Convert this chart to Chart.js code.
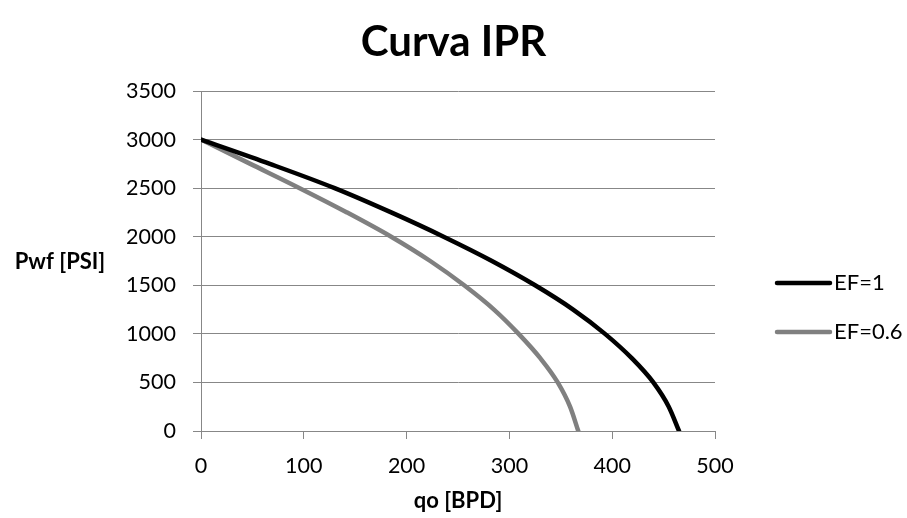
<!DOCTYPE html>
<html>
<head>
<meta charset="utf-8">
<script src="https://cdn.jsdelivr.net/npm/chart.js@4.4.1/dist/chart.umd.min.js"></script>
<style>
  html, body { margin: 0; padding: 0; background: #fff; }
  #wrap { width: 907px; height: 518px; }
</style>
</head>
<body>
<div id="wrap"><canvas id="ipr"></canvas></div>
<script>
// presión de fondo fluyente [psi] y caudal [BPD] para cada eficiencia de flujo
var pwf    = [3000, 2750, 2500, 2250, 2000, 1750, 1500, 1250, 1000, 750, 500, 250, 0];
var qoEF1  = [0, 67, 130, 185, 236, 283, 325, 362, 393, 419, 440, 455, 465];
var qoEF06 = [0, 48, 96, 142, 185, 223, 256, 285, 309, 330, 347, 359, 367];
var seriesNames = ['EF=1', 'EF=0.6'];
var xTicks = [0, 100, 200, 300, 400, 500];
var yTicks = [0, 500, 1000, 1500, 2000, 2500, 3000, 3500];

var FONT = 'Lato, "Open Sans", sans-serif';
var GRID = '#878787';

function toPoints(qs) {
  var pts = [];
  qs.forEach(function (q, i) { pts.push({ x: q, y: pwf[i] }); });
  return pts.reverse();
}

// título centrado en el lienzo, título del eje Y horizontal y leyenda a la derecha
var sideText = {
  id: 'sideText',
  afterDraw: function (chart) {
    var ctx = chart.ctx;
    ctx.save();
    ctx.fillStyle = '#000';
    ctx.textBaseline = 'middle';
    ctx.textAlign = 'center';
    ctx.font = 'bold 42px ' + FONT;
    ctx.fillText('Curva IPR', chart.width / 2, 42);

    ctx.font = 'bold 22px ' + FONT;
    ctx.fillText('Pwf [PSI]', 60, 262);

    ctx.textAlign = 'left';
    ctx.font = '22px ' + FONT;
    chart.data.datasets.forEach(function (ds, i) {
      var y = 283 + i * 49;
      ctx.strokeStyle = ds.borderColor;
      ctx.lineWidth = ds.borderWidth;
      ctx.lineCap = 'round';
      ctx.beginPath();
      ctx.moveTo(777, y);
      ctx.lineTo(830, y);
      ctx.stroke();
      ctx.fillText(ds.label, 834, y);
    });
    ctx.restore();
  }
};

Chart.defaults.font.family = FONT;
Chart.defaults.color = '#000';

function plain(v) { return String(v); }

new Chart(document.getElementById('ipr'), {
  type: 'scatter',
  data: {
    datasets: [{
      label: seriesNames[0],
      data: toPoints(qoEF1),
      showLine: true,
      borderColor: '#000000',
      borderWidth: 4.5,
      borderCapStyle: 'round',
      pointRadius: 0,
      cubicInterpolationMode: 'monotone'
    }, {
      label: seriesNames[1],
      data: toPoints(qoEF06),
      showLine: true,
      borderColor: '#808080',
      borderWidth: 4.5,
      borderCapStyle: 'round',
      pointRadius: 0,
      cubicInterpolationMode: 'monotone'
    }]
  },
  options: {
    responsive: true,
    maintainAspectRatio: false,
    animation: false,
    layout: { padding: { left: 0, right: 192, top: 91, bottom: 0 } },
    plugins: {
      legend: { display: false },
      tooltip: { enabled: false },
      title: { display: false }
    },
    scales: {
      x: {
        type: 'linear',
        min: 0,
        max: 500,
        afterBuildTicks: function (s) { s.ticks = xTicks.map(function (v) { return { value: v }; }); },
        afterFit: function (s) { s.height = 87; },
        grid: { drawOnChartArea: false, drawTicks: true, tickLength: 8, color: GRID, tickColor: GRID },
        border: { color: GRID, width: 1 },
        ticks: { font: { size: 21.5 }, padding: 14, maxRotation: 0, callback: plain },
        title: { display: true, text: 'qo [BPD]', font: { size: 22, weight: 'bold' }, padding: { top: 2, bottom: 4 } }
      },
      y: {
        type: 'linear',
        min: 0,
        max: 3500,
        afterBuildTicks: function (s) { s.ticks = yTicks.map(function (v) { return { value: v }; }); },
        afterFit: function (s) { s.width = 201; },
        grid: { drawTicks: true, tickLength: 8, color: GRID, tickColor: GRID },
        border: { color: GRID, width: 1 },
        ticks: { font: { size: 21.5 }, padding: 17, callback: plain }
      }
    }
  },
  plugins: [sideText]
});
</script>
</body>
</html>
